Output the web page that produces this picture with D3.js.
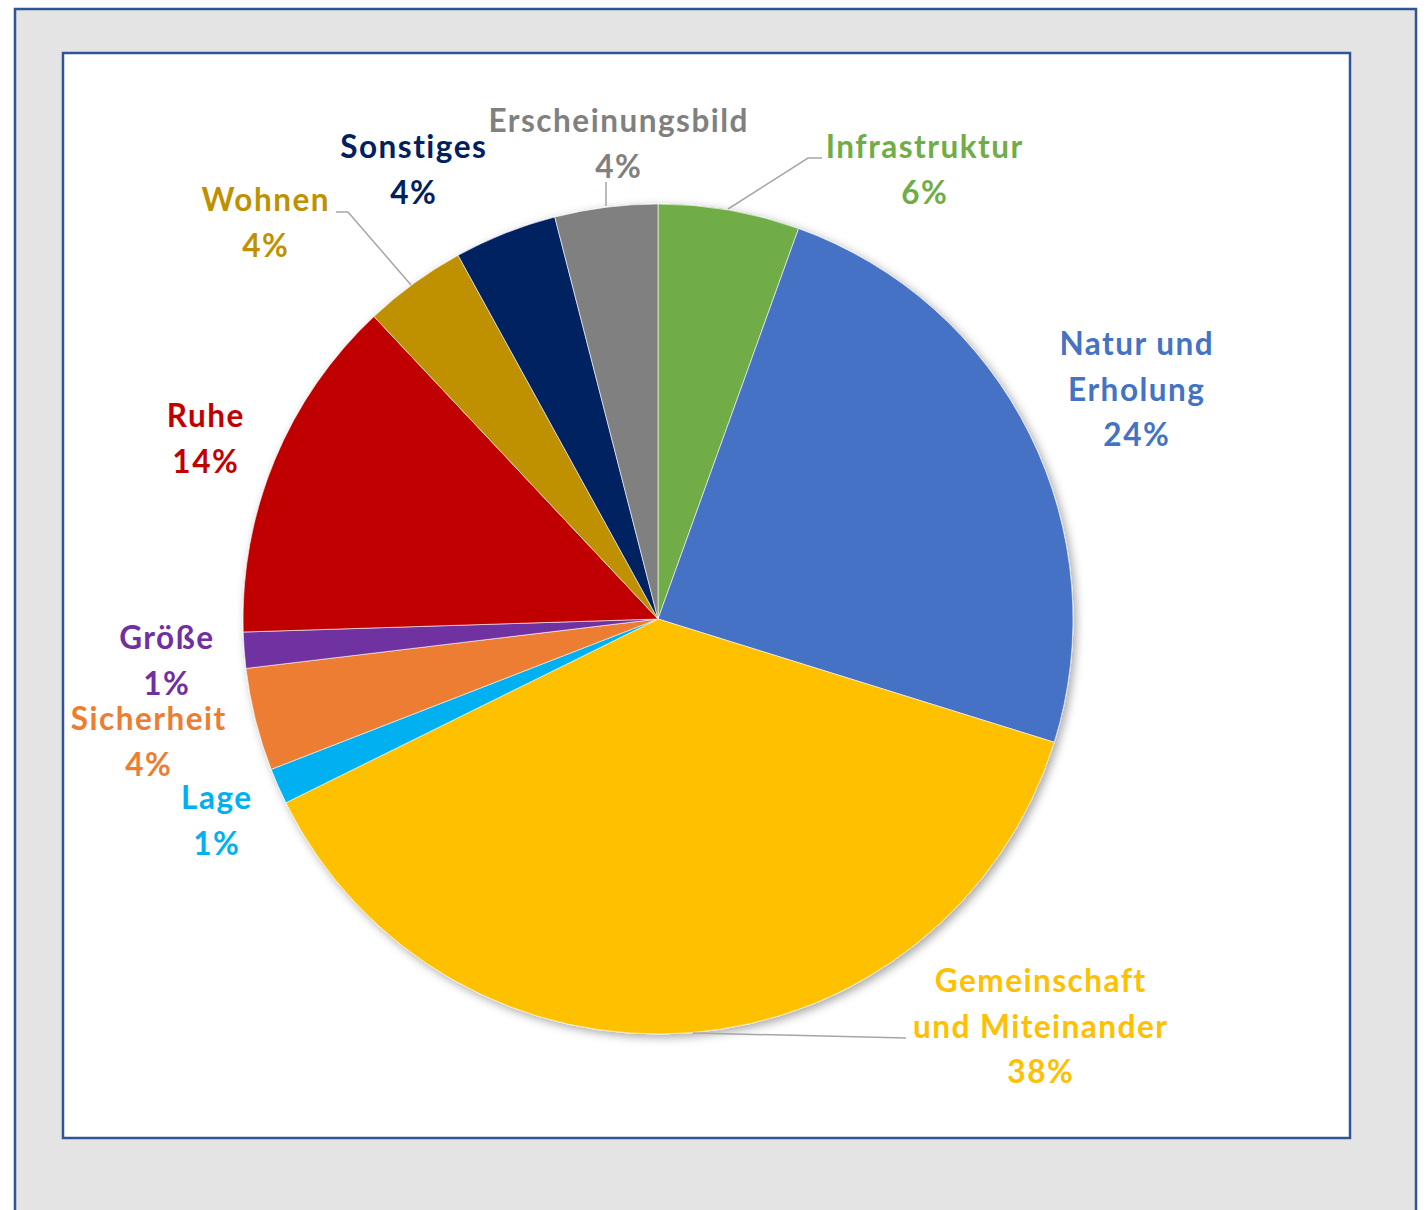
<!DOCTYPE html>
<html>
<head>
<meta charset="utf-8">
<script src="https://cdn.jsdelivr.net/npm/d3@7"></script>
<style>
  html, body { margin: 0; padding: 0; background: #ffffff; }
  svg { display: block; }
</style>
</head>
<body>
<svg id="chart" width="1426" height="1210"></svg>
<script>
// ---- data ----
const categories = ["Infrastruktur", "Natur und Erholung", "Gemeinschaft und Miteinander", "Lage",
                    "Sicherheit", "Größe", "Ruhe", "Wohnen", "Sonstiges", "Erscheinungsbild"];
const values = [5.5, 24.3, 37.9, 1.4, 4.0, 1.4, 13.5, 4.0, 4.0, 4.0];
const labelLines = [["Infrastruktur"], ["Natur und", "Erholung"], ["Gemeinschaft", "und Miteinander"], ["Lage"],
                    ["Sicherheit"], ["Größe"], ["Ruhe"], ["Wohnen"], ["Sonstiges"], ["Erscheinungsbild"]];
const colors = ["#70AD47", "#4472C4", "#FFC000", "#00B0F0", "#ED7D31", "#7030A0", "#C00000", "#BF9000", "#002060", "#808080"];

// ---- layout ----
const W = 1426, H = 1210;
const cx = 658, cy = 619, R = 415;
// label block centres (x, y of first line's middle)
const labelPos = [[924, 146], [1136, 343], [1040, 980], [216, 797], [148, 718], [166, 637], [205, 415], [265, 199], [413, 146], [618, 120]];
const lineGap = 45.5;

const svg = d3.select("#chart");

// frames
svg.append("rect").attr("x", 15).attr("y", 9).attr("width", 1401).attr("height", 1230)
  .attr("fill", "#e4e4e4").attr("stroke", "#2F5597").attr("stroke-width", 2.5);
svg.append("rect").attr("x", 63).attr("y", 53).attr("width", 1287).attr("height", 1085)
  .attr("fill", "#ffffff").attr("stroke", "#2F5597").attr("stroke-width", 2.5);

const defs = svg.append("defs");
const f = defs.append("filter").attr("id", "shadow").attr("x", "-10%").attr("y", "-10%").attr("width", "120%").attr("height", "120%");
f.append("feDropShadow").attr("dx", 3).attr("dy", 3).attr("stdDeviation", 5)
  .attr("flood-color", "#000").attr("flood-opacity", 0.35);

const pie = d3.pie().sort(null).value(d => d)(values);
const arc = d3.arc().innerRadius(0).outerRadius(R);

const g = svg.append("g").attr("transform", `translate(${cx},${cy})`);
const gs = g.append("g").attr("filter", "url(#shadow)");
gs.selectAll("path").data(pie).join("path")
  .attr("d", arc)
  .attr("fill", (d, i) => colors[i])
  .attr("stroke", "#ffffff").attr("stroke-width", 0.6);

// leader lines (from slice edge to label)
const leaders = [
  { i: 0, pts: [[728, 209], [808, 158], [822, 158]] },
  { i: 7, pts: [[411, 285], [348, 212], [336, 212]] },
  { i: 2, pts: [[693, 1033], [906, 1038]] },
  { i: 9, pts: [[606, 206], [606, 182]] }
];
svg.selectAll("polyline.leader").data(leaders).join("polyline")
  .attr("class", "leader")
  .attr("points", d => d.pts.map(p => p.join(",")).join(" "))
  .attr("fill", "none").attr("stroke", "#a6a6a6").attr("stroke-width", 1.5);

// labels
const fmt = v => Math.round(v) + "%";
const lg = svg.append("g");
categories.forEach((c, i) => {
  const lines = labelLines[i].concat([fmt(values[i])]);
  const t = lg.append("text")
    .attr("x", labelPos[i][0] + 0.8).attr("y", labelPos[i][1])
    .attr("text-anchor", "middle").attr("dominant-baseline", "central")
    .attr("font-family", "Lato, 'Open Sans', sans-serif")
    .attr("font-weight", 700).attr("font-size", 31.5)
    .attr("letter-spacing", 1.5)
    .attr("fill", colors[i]);
  lines.forEach((ln, k) => {
    t.append("tspan").attr("x", labelPos[i][0] + 0.8).attr("dy", k === 0 ? 0 : lineGap).text(ln);
  });
});
</script>
</body>
</html>
